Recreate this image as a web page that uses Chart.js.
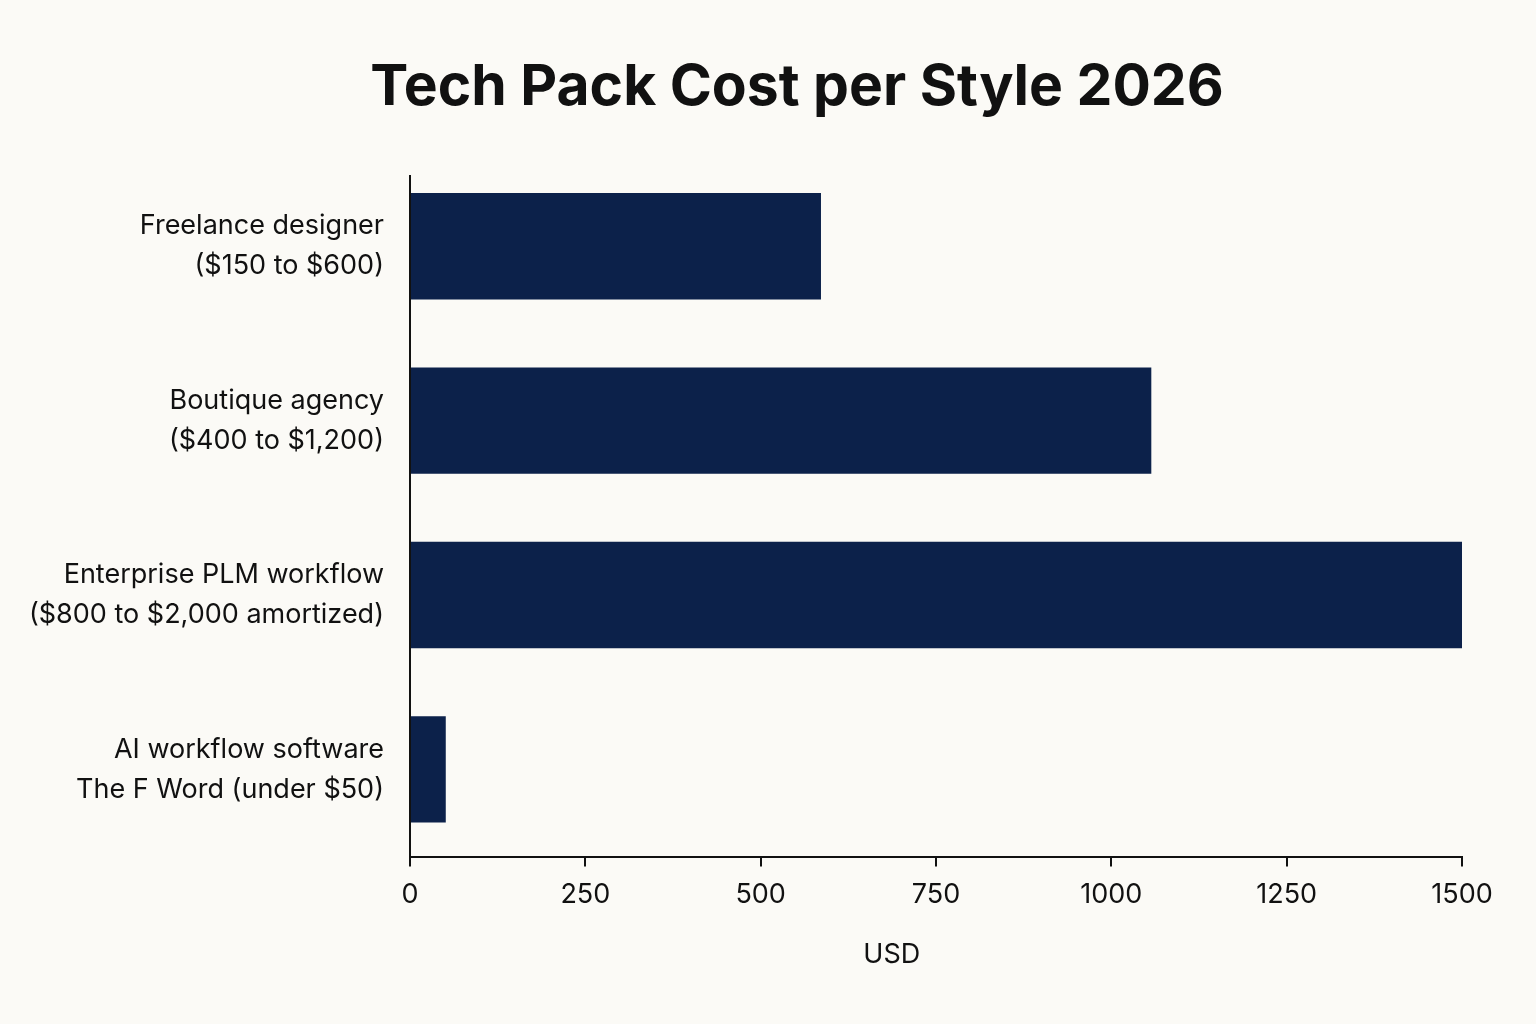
<!DOCTYPE html>
<html>
<head>
<meta charset="utf-8">
<script src="https://cdn.jsdelivr.net/npm/chart.js@4.4.1/dist/chart.umd.min.js"></script>
<style>
  html, body { margin: 0; padding: 0; background: #fbfaf6; }
  #wrap { width: 1536px; height: 1024px; }
</style>
</head>
<body>
<div id="wrap"><canvas id="costChart" width="1536" height="1024"></canvas></div>
<script>
// categories (two-line labels) and values in USD
const categories = [
  ["Freelance designer", "($150 to $600)"],
  ["Boutique agency", "($400 to $1,200)"],
  ["Enterprise PLM workflow", "($800 to $2,000 amortized)"],
  ["AI workflow software", "The F Word (under $50)"]
];
const costUsd = [586, 1057, 1500, 51];
const xTicks = [0, 250, 500, 750, 1000, 1250, 1500];
const titleText = "Tech Pack Cost per Style 2026";
const xTitle = "USD";

const ink = "#111111";
const navy = "#0c214a";
const font = "Inter, 'Liberation Sans', sans-serif";

// title, x axis title and the y axis line drawn by hand
const decorations = {
  id: 'decorations',
  afterDraw(chart) {
    const c = chart.ctx;
    const area = chart.chartArea;
    c.save();
    c.fillStyle = ink;
    c.textAlign = 'center';
    c.textBaseline = 'alphabetic';
    c.font = "700 57px " + font;
    c.fillText(titleText, chart.width / 2 + 29, 105);
    c.textBaseline = 'middle';
    c.font = "27px " + font;
    c.fillText(xTitle, area.left + (area.right - area.left) * 0.458, 955);
    c.strokeStyle = ink;
    c.lineWidth = 2;
    c.beginPath();
    c.moveTo(area.left, area.top + 16);
    c.lineTo(area.left, area.bottom);
    c.stroke();
    c.restore();
  }
};

var ctx = document.getElementById('costChart').getContext('2d');
var costChart = new Chart(ctx, {
  type: 'bar',
  data: {
    labels: categories,
    datasets: [{
      label: "USD",
      data: costUsd,
      backgroundColor: navy,
      borderWidth: 0,
      barPercentage: 0.61,
      categoryPercentage: 1.0
    }]
  },
  plugins: [decorations],
  options: {
    indexAxis: 'y',
    responsive: false,
    maintainAspectRatio: false,
    animation: false,
    layout: {
      padding: { top: 159, left: 20, right: 74, bottom: 101 }
    },
    plugins: {
      legend: { display: false },
      tooltip: { enabled: false },
      title: { display: false }
    },
    scales: {
      x: {
        min: 0,
        max: 1500,
        afterBuildTicks: function(scale) {
          scale.ticks = xTicks.map(v => ({ value: v }));
        },
        grid: {
          display: true,
          drawOnChartArea: false,
          drawTicks: true,
          tickLength: 10,
          color: ink,
          lineWidth: 2
        },
        border: { display: true, color: ink, width: 2 },
        ticks: {
          color: ink,
          padding: 12,
          maxRotation: 0,
          font: { family: font, size: 27 },
          callback: function(value) { return String(value); }
        }
      },
      y: {
        afterFit: function(scale) {
          scale.width = 390;
        },
        grid: { display: false, drawTicks: false },
        border: { display: false },
        ticks: {
          color: ink,
          padding: 26,
          font: { family: font, size: 27, lineHeight: 1.48 }
        }
      }
    }
  }
});
</script>
</body>
</html>
